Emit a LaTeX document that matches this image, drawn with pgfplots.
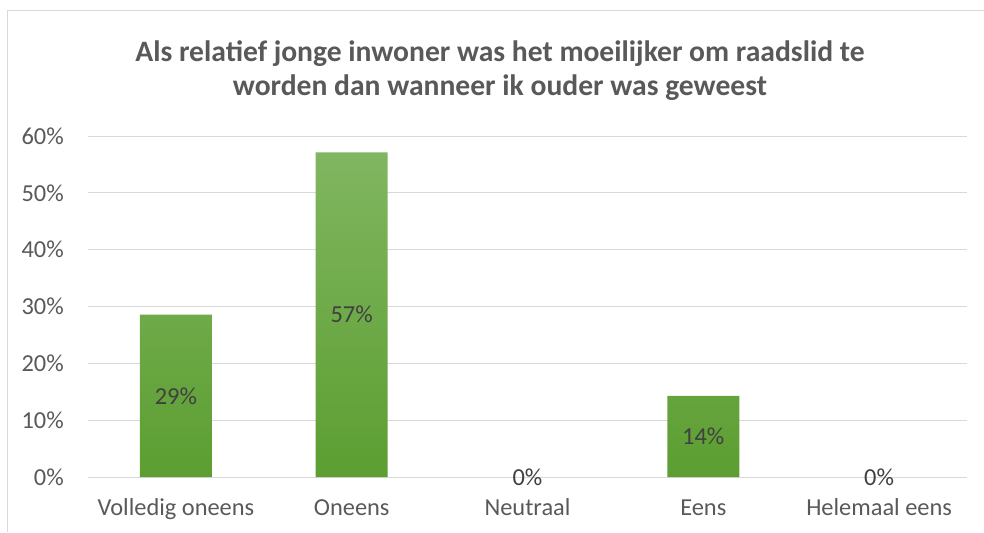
\documentclass[border=0pt]{standalone}
\usepackage{fontspec}
\setmainfont{Carlito}
\usepackage{pgfplots}
\usepackage{pgfplotstable}
\pgfplotsset{compat=1.18}

\definecolor{txt}{HTML}{595959}
\definecolor{lbl}{HTML}{404040}
\definecolor{gridc}{HTML}{D9D9D9}
\definecolor{bartop}{HTML}{80B660}
\definecolor{barbot}{HTML}{5C9E31}

% answers in percent, label = rounded value shown in the bar
\pgfplotstableread{
x y lab
0 28.57 29
1 57.14 57
2 0 0
3 14.29 14
4 0 0
}\answers

\begin{document}
\begin{tikzpicture}
\useasboundingbox (0,0) rectangle (738pt,399pt);
\draw[gridc, line width=0.75pt] (5.25pt,0) -- (5.25pt,390.75pt) -- (738pt,390.75pt);
\node[anchor=base, text=txt, font=\fontsize{22.2}{26}\selectfont\bfseries] at (375pt,352.5pt)
  {Als relatief jonge inwoner was het moeilijker om raadslid te};
\node[anchor=base, text=txt, font=\fontsize{22.2}{26}\selectfont\bfseries] at (375pt,327pt)
  {worden dan wanneer ik ouder was geweest};
\begin{axis}[
    at={(66pt,41.25pt)}, anchor=south west,
    scale only axis,
    width=659.25pt, height=255.75pt,
    xmin=-0.5, xmax=4.5,
    ymin=0, ymax=60,
    xtick={0,...,4},
    xticklabels={Volledig oneens, Oneens, Neutraal, Eens, Helemaal eens},
    ytick={0,10,...,60},
    yticklabel={\pgfmathprintnumber[assume math mode=true]{\tick}\%},
    ymajorgrids,
    grid style={gridc, line width=0.75pt},
    axis line style={draw=none},
    major tick length=0pt,
    tick label style={font=\fontsize{18.3}{21}\selectfont, text=txt},
    xticklabel style={anchor=base, yshift=-28.5pt},
    yticklabel style={anchor=east, xshift=-18pt, inner sep=0pt},
    clip=false,
]
\addplot[ybar, bar width=54pt, draw=none, top color=bartop, bottom color=barbot,
    restrict y to domain=0.001:100]
    table[x=x, y=y] {\answers};
\addplot[only marks, mark=*, mark size=0pt, mark options={draw=none, fill=none},
    point meta=explicit symbolic,
    nodes near coords={\pgfplotspointmeta\%},
    nodes near coords style={anchor=center, text=lbl, font=\fontsize{18.3}{21}\selectfont}]
    table[x=x, y expr=\thisrow{y}/2, meta=lab] {\answers};
\end{axis}
\end{tikzpicture}
\end{document}
